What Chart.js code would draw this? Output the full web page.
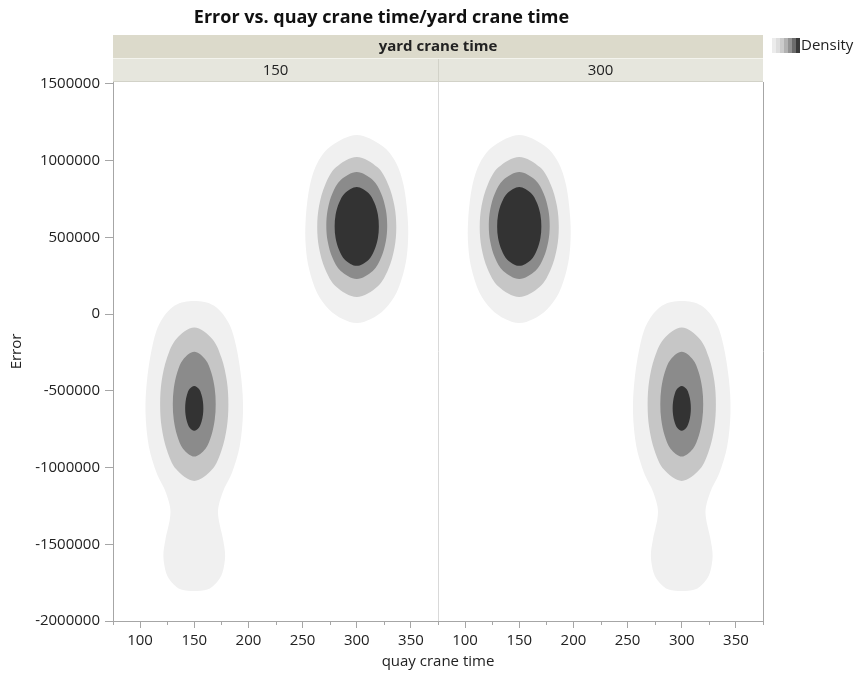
<!DOCTYPE html>
<html>
<head>
<meta charset="utf-8">
<title>Error vs. quay crane time/yard crane time</title>
<script src="https://cdn.jsdelivr.net/npm/chart.js@4.4.1/dist/chart.umd.min.js"></script>
<style>
  html, body { margin: 0; padding: 0; background: #fff; }
  #wrap { width: 856px; height: 675px; position: relative; }
</style>
</head>
<body>
<div id="wrap"><canvas id="densityChart" width="856" height="675"></canvas></div>
<script>
// Facets and axes
const yardCraneTimes = ['150', '300'];
const quayRange = [75, 375];
const quayTicks = [100, 150, 200, 250, 300, 350];
const quayMinorTicks = [75, 125, 175, 225, 275, 325, 375];
const errorRange = [-2000000, 1512000];
const errorTicks = [-2000000, -1500000, -1000000, -500000, 0, 500000, 1000000, 1500000];

// quay crane time at the centre of each density cluster, one entry per facet
const upperClusterQuay = [300, 150];
const lowerClusterQuay = [150, 300];

// contour outlines, outer level first:
// Error values from top to bottom and the half width (in quay crane time) at each
const upperError = [
    [1167000, 1098000, 989000, 837000, 620000, 445000, 293000, 141000, 33000, -33000, -59000],
    [1024000, 956000, 841000, 704000, 567000, 431000, 294000, 180000, 111000],
    [926000, 874000, 786000, 682000, 577000, 472000, 368000, 280000, 228000],
    [828000, 789000, 725000, 648000, 571000, 494000, 417000, 353000, 314000]
];
const upperHalfWidth = [
    [0, 23, 36, 43.3, 47.1, 47.1, 44, 36.8, 26, 13, 0],
    [0, 19.2, 29.2, 34.8, 36.5, 34.8, 29.2, 19.2, 0],
    [0, 14.8, 22.5, 26.8, 28.1, 26.8, 22.5, 14.8, 0],
    [0, 10.8, 16.3, 19.5, 20.4, 19.5, 16.3, 10.8, 0]
];
const lowerError = [
    [85000, 55000, -55000, -205000, -425000, -640000, -860000, -1030000, -1140000, -1250000,
     -1335000, -1465000, -1575000, -1685000, -1750000, -1795000, -1805000],
    [-87000, -162000, -287000, -437000, -587000, -737000, -887000, -1012000, -1087000],
    [-246000, -297000, -382000, -485000, -587000, -689000, -792000, -877000, -928000],
    [-468000, -489000, -526000, -570000, -614000, -658000, -702000, -739000, -761000]
];
const lowerHalfWidth = [
    [0, 18, 31.5, 38.5, 43.5, 45, 42, 35, 27.5, 22.5, 22.5, 26.5, 28.5, 26, 20.5, 12, 0],
    [0, 16.6, 25.2, 30.1, 31.5, 30.1, 25.2, 16.6, 0],
    [0, 10.4, 15.8, 18.9, 19.8, 18.9, 15.8, 10.4, 0],
    [0, 4.4, 6.7, 8.0, 8.4, 8.0, 6.7, 4.4, 0]
];

// styles
const levelColors = ['#f0f0f0', '#c6c6c6', '#8b8b8b', '#333333'];
const legendColors = ['#ececec', '#dedede', '#cccccc', '#b2b2b2', '#939393', '#6c6c6c', '#3a3a3a'];
const fontFamily = "'Open Sans', 'Noto Sans', sans-serif";
const textColor = '#222222';
const axisColor = '#a6a6a6';

Chart.defaults.font.family = fontFamily;

// each facet sits in its own span of the shared x scale
const panelSpan = quayRange[1] - quayRange[0];

function toPanel(value, panel) {
    return value + panel * panelSpan;
}

// closed outline: down the left side, back up the right side
function contourOutline(centre, errors, halfWidths) {
    const points = errors.map((e, i) => ({ x: centre - halfWidths[i], y: e }));
    for (let i = errors.length - 2; i > 0; i--) {
        points.push({ x: centre + halfWidths[i], y: errors[i] });
    }
    return points;
}

const datasets = [];
levelColors.forEach((color, level) => {
    yardCraneTimes.forEach((facet, panel) => {
        datasets.push({
            label: 'yard ' + facet + ' upper level ' + (level + 1),
            data: contourOutline(toPanel(upperClusterQuay[panel], panel), upperError[level], upperHalfWidth[level]),
            backgroundColor: color,
            pointRadius: 0,
            pointHoverRadius: 0,
            showLine: false
        });
        datasets.push({
            label: 'yard ' + facet + ' lower level ' + (level + 1),
            data: contourOutline(toPanel(lowerClusterQuay[panel], panel), lowerError[level], lowerHalfWidth[level]),
            backgroundColor: color,
            pointRadius: 0,
            pointHoverRadius: 0,
            showLine: false
        });
    });
});

const xMajorTicks = [];
const xMinorTicks = [];
yardCraneTimes.forEach((facet, panel) => {
    quayTicks.forEach(v => xMajorTicks.push(toPanel(v, panel)));
    quayMinorTicks.forEach(v => xMinorTicks.push(toPanel(v, panel)));
});

// fills each contour as a smooth closed curve through the points placed by the scales
const contourFill = {
    id: 'contourFill',
    beforeDatasetsDraw(chart) {
        const { ctx, chartArea } = chart;
        ctx.save();
        ctx.beginPath();
        ctx.rect(chartArea.left, chartArea.top, chartArea.width, chartArea.height);
        ctx.clip();
        chart.data.datasets.forEach((ds, i) => {
            const pts = chart.getDatasetMeta(i).data;
            const n = pts.length;
            if (!n) return;
            ctx.beginPath();
            ctx.moveTo(pts[0].x, pts[0].y);
            for (let k = 0; k < n; k++) {
                const p0 = pts[(k - 1 + n) % n];
                const p1 = pts[k];
                const p2 = pts[(k + 1) % n];
                const p3 = pts[(k + 2) % n];
                ctx.bezierCurveTo(
                    p1.x + (p2.x - p0.x) / 6, p1.y + (p2.y - p0.y) / 6,
                    p2.x - (p3.x - p1.x) / 6, p2.y - (p3.y - p1.y) / 6,
                    p2.x, p2.y
                );
            }
            ctx.closePath();
            ctx.fillStyle = ds.backgroundColor;
            ctx.fill();
        });
        ctx.restore();
    }
};

// facet header bands, panel divider, frame, minor ticks and the density legend
const facetFrame = {
    id: 'facetFrame',
    afterDraw(chart) {
        const { ctx, chartArea } = chart;
        const x = chart.scales.x;
        const left = chartArea.left;
        const right = chartArea.right;
        const top = chartArea.top;
        const bottom = chartArea.bottom;
        const divider = Math.round(x.getPixelForValue(quayRange[1])) + 0.5;

        ctx.save();
        // header bands
        ctx.fillStyle = '#dcdacb';
        ctx.fillRect(left, top - 47, right - left, 24);
        ctx.fillStyle = '#e6e6dd';
        ctx.fillRect(left, top - 23, right - left, 23);
        ctx.strokeStyle = '#f4f4ee';
        ctx.lineWidth = 1;
        ctx.beginPath();
        ctx.moveTo(left, top - 23.5);
        ctx.lineTo(right, top - 23.5);
        ctx.stroke();
        ctx.strokeStyle = '#d2d2c8';
        ctx.beginPath();
        ctx.moveTo(left, top - 0.5);
        ctx.lineTo(right, top - 0.5);
        ctx.moveTo(divider, top - 23);
        ctx.lineTo(divider, top);
        ctx.stroke();

        ctx.fillStyle = textColor;
        ctx.textAlign = 'center';
        ctx.textBaseline = 'middle';
        ctx.font = 'bold 15px ' + fontFamily;
        ctx.fillText('yard crane time', (left + right) / 2, top - 35);
        ctx.font = '15px ' + fontFamily;
        yardCraneTimes.forEach((facet, panel) => {
            const a = x.getPixelForValue(toPanel(quayRange[0], panel));
            const b = x.getPixelForValue(toPanel(quayRange[1], panel));
            ctx.fillText(facet, (a + b) / 2, top - 11);
        });

        // panel divider and right frame
        ctx.strokeStyle = '#d9d9d9';
        ctx.beginPath();
        ctx.moveTo(divider, top);
        ctx.lineTo(divider, bottom);
        ctx.stroke();
        ctx.strokeStyle = axisColor;
        ctx.beginPath();
        ctx.moveTo(Math.round(right) + 0.5, top);
        ctx.lineTo(Math.round(right) + 0.5, bottom);
        ctx.stroke();

        // minor ticks on the x axis
        ctx.beginPath();
        xMinorTicks.forEach(v => {
            const px = Math.round(x.getPixelForValue(v)) + 0.5;
            ctx.moveTo(px, bottom);
            ctx.lineTo(px, bottom + 4);
        });
        ctx.stroke();

        // density legend
        const lx = right + 9;
        const ly = top - 44;
        legendColors.forEach((c, i) => {
            ctx.fillStyle = c;
            ctx.fillRect(lx + i * 4, ly, 4, 15);
        });
        ctx.fillStyle = textColor;
        ctx.textAlign = 'left';
        ctx.fillText('Density', lx + legendColors.length * 4 + 1, ly + 8);
        ctx.restore();
    }
};

new Chart(document.getElementById('densityChart'), {
    type: 'scatter',
    data: { datasets: datasets },
    options: {
        responsive: false,
        animation: false,
        events: [],
        layout: { padding: { top: 0, right: 93, bottom: 0, left: 0 } },
        plugins: {
            legend: { display: false },
            tooltip: { enabled: false },
            title: {
                display: true,
                text: 'Error vs. quay crane time/yard crane time',
                color: '#111111',
                font: { size: 18, weight: 'bold' },
                padding: { top: 7, bottom: 53.4 }
            }
        },
        scales: {
            x: {
                type: 'linear',
                min: quayRange[0],
                max: toPanel(quayRange[1], yardCraneTimes.length - 1),
                afterBuildTicks: s => { s.ticks = xMajorTicks.map(v => ({ value: v })); },
                afterFit: s => { s.height = 54; },
                ticks: {
                    autoSkip: false,
                    maxRotation: 0,
                    padding: 4,
                    color: textColor,
                    font: { size: 15 },
                    callback: v => String(v > quayRange[1] ? v - panelSpan : v)
                },
                grid: { drawOnChartArea: false, tickLength: 7, color: axisColor },
                border: { color: axisColor },
                title: {
                    display: true,
                    text: 'quay crane time',
                    color: textColor,
                    font: { size: 15 },
                    padding: { top: 0, bottom: 4 }
                }
            },
            y: {
                min: errorRange[0],
                max: errorRange[1],
                afterBuildTicks: s => { s.ticks = errorTicks.map(v => ({ value: v })); },
                afterFit: s => { s.width = 113; },
                ticks: {
                    padding: 5,
                    color: textColor,
                    font: { size: 15 },
                    callback: v => String(v)
                },
                grid: { drawOnChartArea: false, tickLength: 8, color: axisColor },
                border: { color: axisColor },
                title: {
                    display: true,
                    text: 'Error',
                    color: textColor,
                    font: { size: 15 },
                    padding: { top: 8, bottom: 0 }
                }
            }
        }
    },
    plugins: [contourFill, facetFrame]
});
</script>
</body>
</html>
